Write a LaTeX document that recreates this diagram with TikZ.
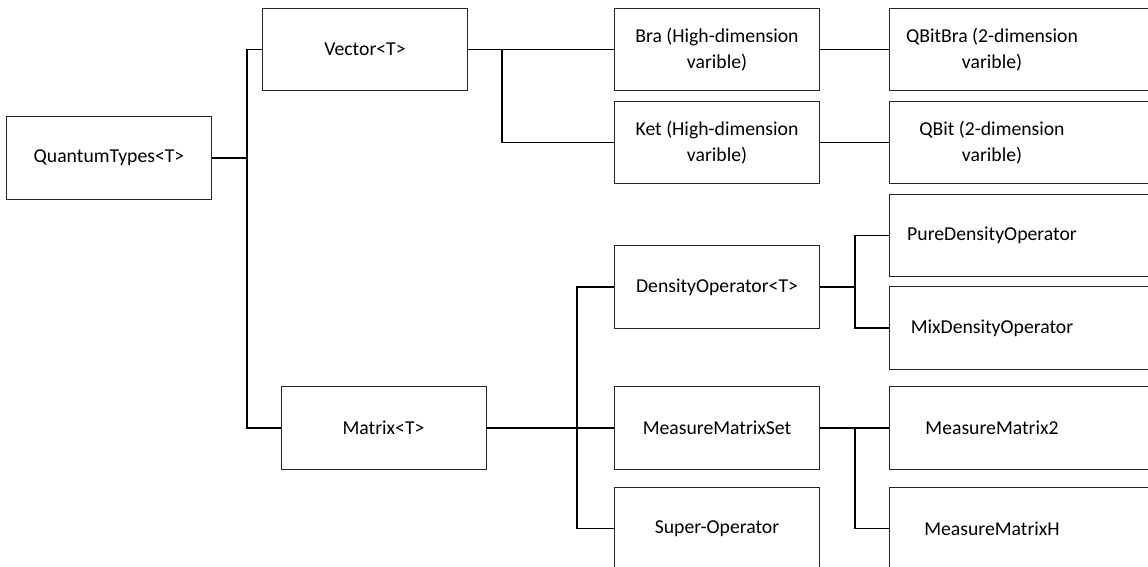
\documentclass[tikz,border=0pt]{standalone}
\usepackage{fontspec}
\setmainfont{Carlito}
\begin{document}
\begin{tikzpicture}[x=1pt,y=-1pt,
  box/.style={draw=black!85, line width=0.9pt, minimum width=205pt, minimum height=82.5pt, inner sep=0pt, align=center,
    font=\fontsize{19.7}{25.7}\selectfont},
  txt/.style={draw=none, minimum width=205pt, minimum height=82.5pt, inner sep=0pt, align=center,
    font=\fontsize{19.7}{25.7}\selectfont},
  edge/.style={draw=black, line width=1.1pt},
  rbox/.style={draw=black!85, line width=0.9pt}]
\useasboundingbox (0,0) rectangle (1148,567);
\clip (0,0) rectangle (1148,567);
% first column
\node[box] (qt) at (109,158) {QuantumTypes<T>};
% second column
\node[box] (vec) at (365,49.5) {Vector<T>};
\node[box] (mat) at (383.5,428) {Matrix<T>};
% third column
\node[box] (bra) at (717,49.5) {Bra (High-dimension\\varible)};
\node[box] (ket) at (717,142.5) {Ket (High-dimension\\varible)};
\node[box] (dens) at (717,287) {DensityOperator<T>};
\node[box] (mms) at (717,428) {MeasureMatrixSet};
\node[box] (sup) at (717,528.5) {Super-Operator};
% fourth column (cut at right edge)
\node[txt] (qbb) at (992,49.5) {QBitBra (2-dimension\\varible)};
\node[txt] (qb) at (992,142.5) {QBit (2-dimension\\varible)};
\node[txt] (pure) at (992,235.5) {PureDensityOperator};
\node[txt] (mix) at (992,328) {MixDensityOperator};
\node[txt] (mm2) at (992,428) {MeasureMatrix2};
\node[txt] (mmh) at (992,528.5) {MeasureMatrixH};
\foreach \n in {qbb,qb,pure,mix,mm2,mmh}
  \draw[rbox] (\n.north west) rectangle ++(320,82.5);
% junctions
\coordinate (j0) at (247,158);
\coordinate (j1) at (502,49.5);
\coordinate (j2) at (577,428);
\coordinate (j3) at (855,287);
\coordinate (j4) at (855,428);
% connectors
\draw[edge] (qt.east) -- (j0);
\draw[edge] (vec.west) -| (j0) |- (mat.west);
\draw[edge] (vec.east) -- (bra.west);
\draw[edge] (j1) |- (ket.west);
\draw[edge] (bra.east) -- (qbb.west);
\draw[edge] (ket.east) -- (qb.west);
\draw[edge] (mat.east) -- (mms.west);
\draw[edge] (dens.west) -| (j2) |- (sup.west);
\draw[edge] (dens.east) -- (j3);
\draw[edge] (pure.west) -| (j3) |- (mix.west);
\draw[edge] (mms.east) -- (mm2.west);
\draw[edge] (j4) |- (mmh.west);
\end{tikzpicture}
\end{document}
